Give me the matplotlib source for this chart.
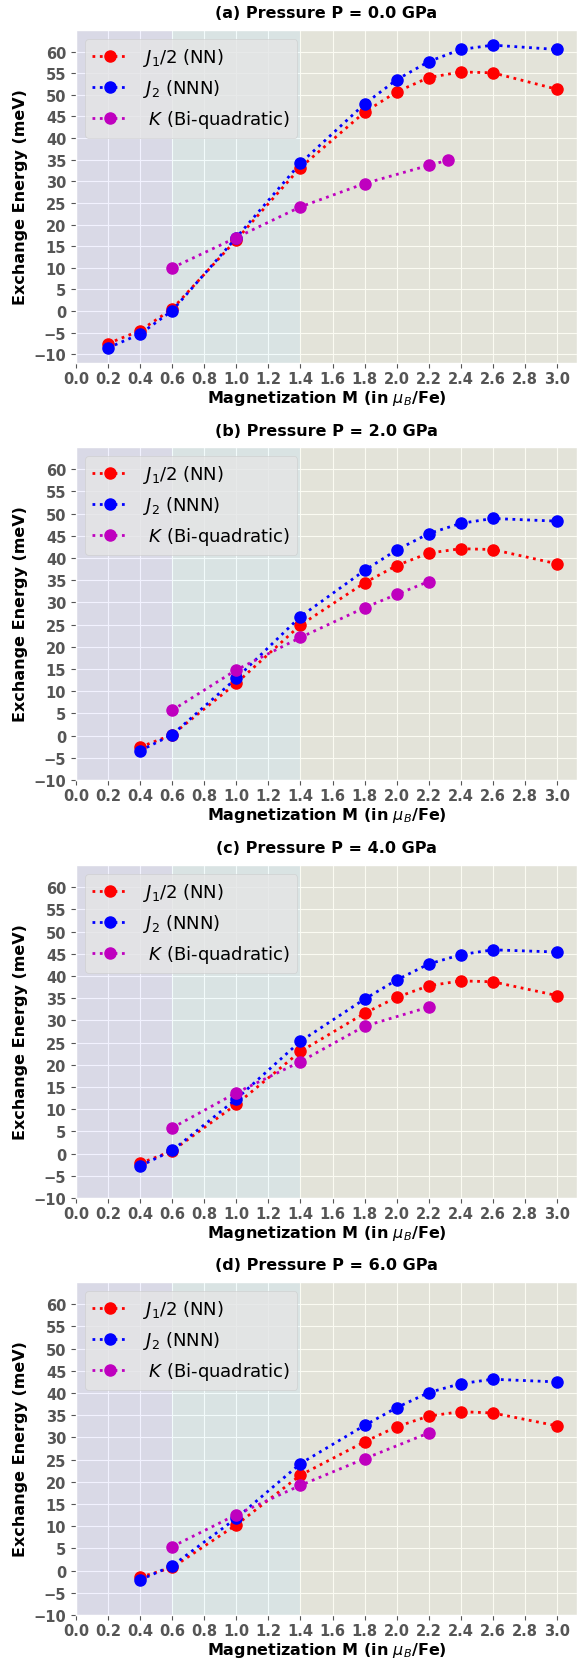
import numpy as np
import matplotlib
matplotlib.use("Agg")
import matplotlib.pyplot as plt

plt.style.use("ggplot")
plt.rcParams['font.family'] = ['DejaVu Sans']

# ---------------- data ----------------
titles = ["(a) Pressure P = 0.0 GPa", "(b) Pressure P = 2.0 GPa",
          "(c) Pressure P = 4.0 GPa", "(d) Pressure P = 6.0 GPa"]

m_a = [0.2, 0.4, 0.6, 1.0, 1.4, 1.8, 2.0, 2.2, 2.4, 2.6, 3.0]
m_bcd = [0.4, 0.6, 1.0, 1.4, 1.8, 2.0, 2.2, 2.4, 2.6, 3.0]

j1_a = [-7.5, -4.5, 0.5, 16.5, 33.2, 46.0, 50.7, 54.0, 55.3, 55.1, 51.3]
j2_a = [-8.5, -5.3, 0.1, 17.0, 34.2, 47.9, 53.5, 57.7, 60.5, 61.5, 60.5]
mk_a = [0.6, 1.0, 1.4, 1.8, 2.2, 2.32]
k_a = [10.0, 17.0, 24.1, 29.5, 33.7, 34.9]

j1_b = [-2.6, 0.2, 11.8, 24.9, 34.4, 38.3, 41.1, 42.1, 41.9, 38.7]
j2_b = [-3.4, 0.2, 12.9, 26.8, 37.2, 41.8, 45.5, 47.8, 48.9, 48.3]
mk_b = [0.6, 1.0, 1.4, 1.8, 2.0, 2.2]
k_b = [5.7, 14.8, 22.1, 28.8, 31.8, 34.7]

j1_c = [-2.2, 0.6, 11.1, 23.0, 31.6, 35.2, 37.8, 38.9, 38.7, 35.6]
j2_c = [-2.8, 0.7, 12.3, 25.3, 34.8, 39.1, 42.7, 44.8, 45.9, 45.4]
mk_c = [0.6, 1.0, 1.4, 1.8, 2.2]
k_c = [5.8, 13.7, 20.7, 28.7, 33.0]

j1_d = [-1.5, 0.7, 10.3, 21.5, 29.0, 32.4, 34.8, 35.8, 35.5, 32.6]
j2_d = [-2.1, 1.1, 11.8, 24.1, 32.7, 36.7, 40.1, 42.1, 43.1, 42.5]
mk_d = [0.6, 1.0, 1.4, 1.8, 2.2]
k_d = [5.4, 12.6, 19.2, 25.2, 31.0]

region_edges = [0.0, 0.6, 1.4, 3.125]
region_colors = ["b", "c", "y"]

xticks = np.round(np.arange(0, 3.01, 0.2), 1)
yticks = np.arange(-10, 61, 5)

panels = [
    (titles[0], m_a, j1_a, j2_a, mk_a, k_a, (-12, 65)),
    (titles[1], m_bcd, j1_b, j2_b, mk_b, k_b, (-10, 65)),
    (titles[2], m_bcd, j1_c, j2_c, mk_c, k_c, (-10, 65)),
    (titles[3], m_bcd, j1_d, j2_d, mk_d, k_d, (-10, 65)),
]

W, H = 577, 1665
fig = plt.figure(figsize=(W / 100, H / 100), dpi=100)

tops = [31, 448, 866, 1283]
ax_h = 333
left_px = 76

for (title, mx, j1, j2, mk, kk, yl), top in zip(panels, tops):
    ax = fig.add_axes([left_px / W, 1 - (top + ax_h) / H, 1 - left_px / W, ax_h / H])
    for i in range(3):
        ax.axvspan(region_edges[i], region_edges[i + 1], color=region_colors[i],
                   alpha=0.05, lw=0)
    ax.plot(mx, j1, 'r:o', lw=2, ms=8, label=r'$J_1/2$ (NN)')
    ax.plot(mx, j2, 'b:o', lw=2, ms=8, label=r'$J_2$ (NNN)')
    ax.plot(mk, kk, 'm:o', lw=2, ms=8, label=r' $K$ (Bi-quadratic)')
    ax.set_xlim(0, 3.125)
    ax.set_ylim(*yl)
    ax.set_xticks(xticks)
    ax.set_xticklabels([f"{v:.1f}" for v in xticks])
    ax.set_yticks(yticks)
    ax.tick_params(labelsize=10.5, colors='#555555')
    ax.tick_params(axis='x', pad=2.5)
    for lab in ax.get_xticklabels() + ax.get_yticklabels():
        lab.set_fontweight('bold')
    ax.set_title(title, fontsize=11.5, fontweight='bold', color='black', pad=9)
    ax.set_xlabel(r'Magnetization M (in $\mu_B$/Fe)', fontsize=11.5,
                  fontweight='bold', color='black', labelpad=1.5)
    ax.set_ylabel('Exchange Energy (meV)', fontsize=11.5, fontweight='bold',
                  color='black')
    ax.legend(loc='upper left', fontsize=13)

fig.savefig("out.png", dpi=100)
